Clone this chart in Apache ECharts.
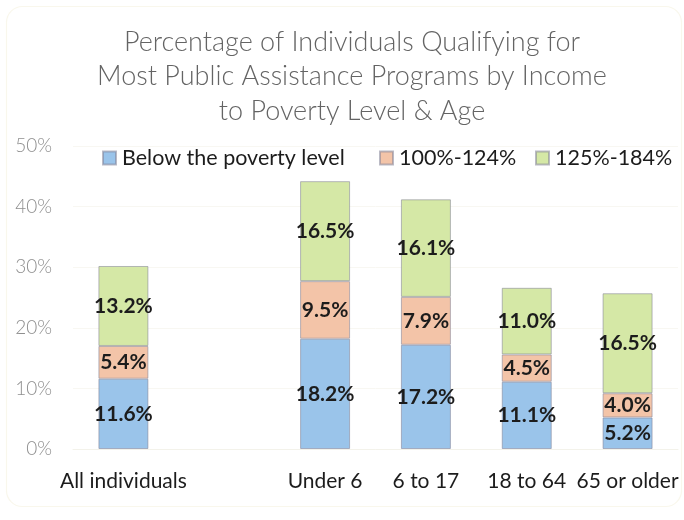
<!DOCTYPE html>
<html>
<head>
<meta charset="utf-8">
<script src="https://cdn.jsdelivr.net/npm/echarts@6/dist/echarts.min.js"></script>
<style>
  html, body { margin: 0; padding: 0; background: #ffffff; }
  #chart { width: 684px; height: 520px; }
</style>
</head>
<body>
<div id="chart"></div>
<script>
// Age groups; the blank slot keeps a gap after the overall bar
const categories = ['All individuals', '', 'Under 6', '6 to 17', '18 to 64', '65 or older'];

// Share of people (%) in each income-to-poverty band
const belowPoverty = [11.6, null, 18.2, 17.2, 11.1, 5.2];
const band100to124 = [5.4, null, 9.5, 7.9, 4.5, 4.0];
const band125to184 = [13.2, null, 16.5, 16.1, 11.0, 16.5];

const seriesNames = ['Below the poverty level', '100%-124%', '125%-184%'];
const yTicks = [0, 10, 20, 30, 40, 50];

const FONT = 'Lato, "Open Sans", "Liberation Sans", sans-serif';

function stack(name, values, color) {
  return {
    name: name,
    type: 'bar',
    stack: 'total',
    barWidth: 50,
    data: values.map(v => (v === null ? '-' : v)),
    itemStyle: {
      color: color,
      borderColor: 'rgba(130,130,150,0.55)',
      borderWidth: 1
    },
    label: {
      show: true,
      position: 'inside',
      formatter: p => p.value.toFixed(1) + '%',
      fontFamily: FONT,
      fontWeight: 'bold',
      fontSize: 21,
      color: '#1c1c1c'
    },
    emphasis: { disabled: true }
  };
}

// One legend block per series so each key sits at its own spot on the row
const legendLefts = [97, 374, 530];
const legends = seriesNames.map((name, i) => ({
  data: [name],
  left: legendLefts[i],
  top: 142,
  itemWidth: 13,
  itemHeight: 13,
  icon: 'rect',
  selectedMode: false,
  textStyle: {
    fontFamily: FONT,
    fontSize: 21.5,
    color: '#1c1c1c',
    padding: [0, 0, 0, 1]
  }
}));

const chart = echarts.init(document.getElementById('chart'), null, { renderer: 'canvas' });

chart.setOption({
  animation: false,
  backgroundColor: '#ffffff',
  title: {
    text: 'Percentage of Individuals Qualifying for\nMost Public Assistance Programs by Income\nto Poverty Level & Age',
    left: 347,
    top: 20,
    textAlign: 'center',
    textStyle: {
      fontFamily: FONT,
      fontWeight: 300,
      fontSize: 27,
      lineHeight: 34.5,
      color: '#646464'
    }
  },
  legend: legends,
  graphic: [{
    type: 'rect',
    left: 4,
    top: 4,
    shape: { width: 675, height: 500, r: 16 },
    style: { fill: 'none', stroke: '#f9f7ec', lineWidth: 1.2 },
    silent: true,
    z: -1
  }],
  grid: {
    left: 73,
    right: 6,
    top: 146,
    bottom: 71
  },
  xAxis: {
    type: 'category',
    data: categories,
    axisLine: { show: true, lineStyle: { color: '#f3f2ea' } },
    axisTick: { show: false },
    axisLabel: {
      interval: 0,
      margin: 22,
      fontFamily: FONT,
      fontSize: 21,
      color: '#1c1c1c'
    }
  },
  yAxis: {
    type: 'value',
    min: yTicks[0],
    max: yTicks[yTicks.length - 1],
    interval: 10,
    axisLine: { show: false },
    axisTick: { show: false },
    splitLine: { show: true, lineStyle: { color: '#f8f7f2', width: 1 } },
    axisLabel: {
      margin: 21,
      fontFamily: FONT,
      fontWeight: 300,
      fontSize: 19,
      color: '#8f8f8f',
      formatter: v => v + '%'
    }
  },
  series: [
    stack(seriesNames[0], belowPoverty, '#9ac4ea'),
    stack(seriesNames[1], band100to124, '#f3c4a8'),
    stack(seriesNames[2], band125to184, '#d5e8a6')
  ]
});
</script>
</body>
</html>
